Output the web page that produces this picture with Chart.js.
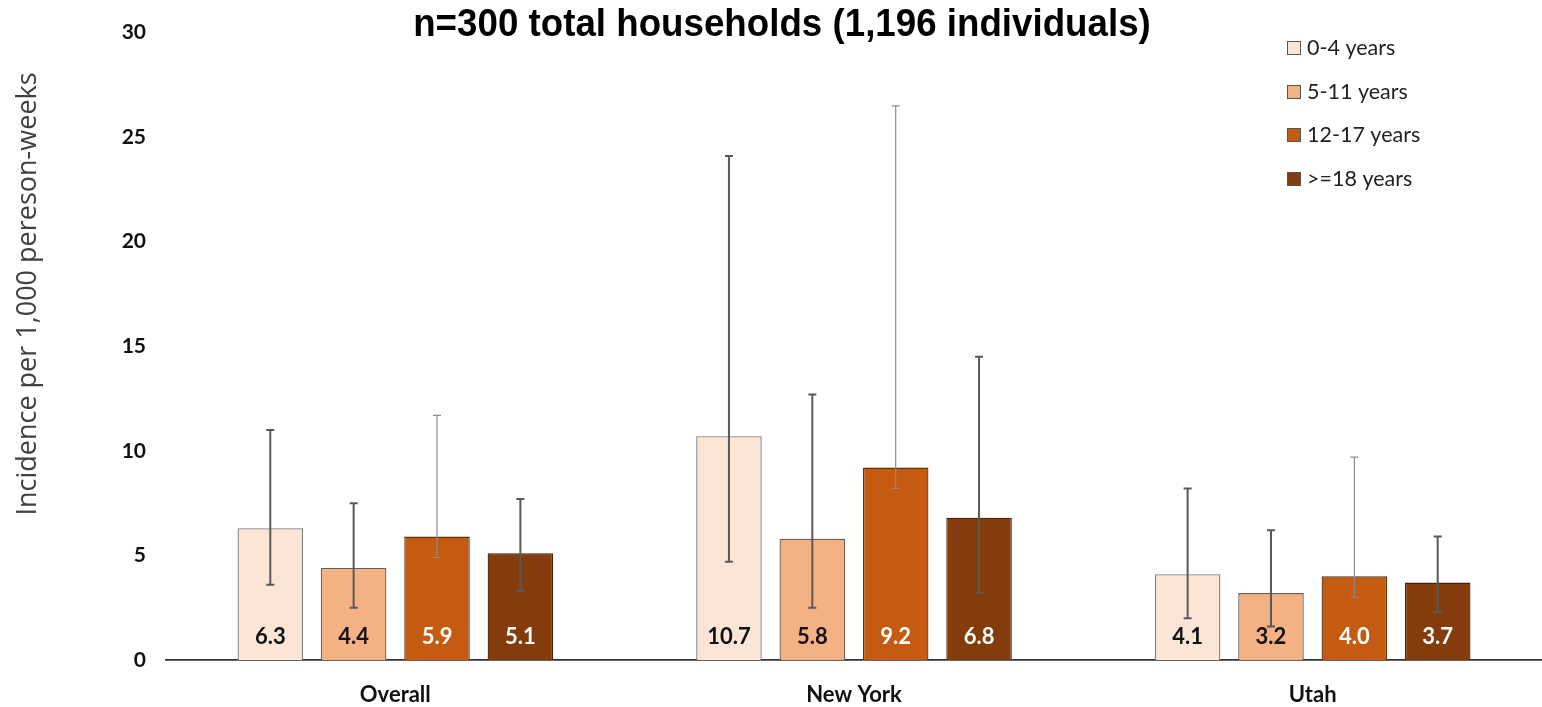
<!DOCTYPE html>
<html>
<head>
<meta charset="utf-8">
<script src="https://cdn.jsdelivr.net/npm/chart.js@4/dist/chart.umd.min.js"></script>
<style>
  html, body { margin: 0; padding: 0; background: #ffffff; overflow: hidden; }
  #wrap { width: 1542px; height: 707px; position: relative; }
</style>
</head>
<body>
<div id="wrap"><canvas id="chart" width="1542" height="707"></canvas></div>
<script>
// Sites
const categories = ['Overall', 'New York', 'Utah'];
// Age groups
const seriesLabels = ['0-4 years', '5-11 years', '12-17 years', '>=18 years'];

// Incidence per 1,000 person-weeks
const age0to4   = [6.3, 10.7, 4.1];
const age5to11  = [4.4, 5.8, 3.2];
const age12to17 = [5.9, 9.2, 4.0];
const age18plus = [5.1, 6.8, 3.7];

// 95% CI lower / upper bounds
const low0to4    = [3.6, 4.7, 2.0];
const high0to4   = [11.0, 24.1, 8.2];
const low5to11   = [2.5, 2.5, 1.6];
const high5to11  = [7.5, 12.7, 6.2];
const low12to17  = [4.9, 8.2, 3.0];
const high12to17 = [11.7, 26.5, 9.7];
const low18plus  = [3.3, 3.2, 2.3];
const high18plus = [7.7, 14.5, 5.9];

const yTicks = [0, 5, 10, 15, 20, 25, 30];

const fills   = ['#FBE5D6', '#F4B183', '#C55A11', '#843C0C'];
const borders = ['#7a7a7a', '#6e5a4e', '#5e3410', '#4a2106'];
const labelColors = ['#111111', '#111111', '#ffffff', '#ffffff'];
const errColors = ['#595959', '#595959', '#8c8c8c', '#595959'];
const errWidths = [2, 2, 1.2, 2];

const values = [age0to4, age5to11, age12to17, age18plus];
const lows = [low0to4, low5to11, low12to17, low18plus];
const highs = [high0to4, high5to11, high12to17, high18plus];

const datasets = seriesLabels.map((label, i) => ({
  label: label,
  data: values[i],
  backgroundColor: fills[i],
  borderColor: borders[i],
  borderWidth: 1.3,
  borderSkipped: 'bottom',
  categoryPercentage: 0.727,
  barPercentage: 0.786,
  errLow: lows[i],
  errHigh: highs[i]
}));

// Confidence-interval whiskers and in-bar value labels
const barExtras = {
  id: 'barExtras',
  afterDatasetsDraw(chart) {
    const ctx = chart.ctx;
    const y = chart.scales.y;
    chart.data.datasets.forEach((ds, di) => {
      const meta = chart.getDatasetMeta(di);
      meta.data.forEach((bar, j) => {
        const x = bar.x;
        ctx.save();
        ctx.font = 'bold 22px Lato, "Open Sans", sans-serif';
        ctx.fillStyle = labelColors[di];
        ctx.textAlign = 'center';
        ctx.textBaseline = 'middle';
        ctx.fillText(ds.data[j].toFixed(1), x, y.getPixelForValue(0) - 23);
        ctx.restore();

        const top = y.getPixelForValue(ds.errHigh[j]);
        const bot = y.getPixelForValue(ds.errLow[j]);
        ctx.save();
        ctx.strokeStyle = errColors[di];
        ctx.lineWidth = errWidths[di];
        ctx.beginPath();
        ctx.moveTo(x, top); ctx.lineTo(x, bot);
        ctx.moveTo(x - 4, top); ctx.lineTo(x + 4, top);
        ctx.moveTo(x - 4, bot); ctx.lineTo(x + 4, bot);
        ctx.stroke();
        ctx.restore();
      });
    });
  }
};

// Title, rotated y-axis title and the stacked legend at top right
const decorations = {
  id: 'decorations',
  afterDraw(chart) {
    const ctx = chart.ctx;
    ctx.save();
    ctx.translate(782, 36);
    ctx.scale(1.02, 1.08);
    ctx.font = 'bold 36px "Liberation Sans", Arial, sans-serif';
    ctx.fillStyle = '#000000';
    ctx.textAlign = 'center';
    ctx.textBaseline = 'alphabetic';
    ctx.fillText('n=300 total households (1,196 individuals)', 0, 0);
    ctx.restore();

    ctx.save();
    ctx.translate(36, 294);
    ctx.rotate(-Math.PI / 2);
    ctx.font = '27px "Open Sans", sans-serif';
    ctx.fillStyle = '#404040';
    ctx.textAlign = 'center';
    ctx.textBaseline = 'alphabetic';
    ctx.fillText('Incidence per 1,000 pereson-weeks', 0, 0);
    ctx.restore();

    const rowY = [48, 92, 135, 179];
    chart.data.datasets.forEach((ds, i) => {
      ctx.save();
      ctx.fillStyle = ds.backgroundColor;
      ctx.strokeStyle = '#555555';
      ctx.lineWidth = 1;
      ctx.fillRect(1287.5, rowY[i] - 6.5, 13, 13);
      ctx.strokeRect(1287.5, rowY[i] - 6.5, 13, 13);
      ctx.font = '21.5px Lato, "Open Sans", sans-serif';
      ctx.fillStyle = '#222222';
      ctx.textAlign = 'left';
      ctx.textBaseline = 'middle';
      ctx.fillText(ds.label, 1307, rowY[i]);
      ctx.restore();
    });
  }
};

new Chart(document.getElementById('chart'), {
  type: 'bar',
  data: { labels: categories, datasets: datasets },
  options: {
    responsive: false,
    animation: false,
    layout: { padding: { top: 19, right: 0, bottom: 0, left: 0 } },
    plugins: { legend: { display: false }, tooltip: { enabled: false }, title: { display: false } },
    scales: {
      x: {
        grid: { display: false, drawTicks: false },
        border: { display: true, color: '#333333', width: 1.8 },
        ticks: {
          color: '#111111',
          padding: 22,
          font: { family: 'Lato, "Open Sans", sans-serif', weight: 'bold', size: 22 }
        },
        afterFit(scale) { scale.height = 47; }
      },
      y: {
        min: 0,
        max: 30,
        grid: { display: false, drawTicks: false },
        border: { display: false },
        afterBuildTicks(scale) { scale.ticks = yTicks.map(v => ({ value: v })); },
        ticks: {
          color: '#111111',
          padding: 20,
          font: { family: 'Lato, "Open Sans", sans-serif', weight: 'bold', size: 21 }
        },
        afterFit(scale) { scale.width = 166; }
      }
    }
  },
  plugins: [barExtras, decorations]
});
</script>
</body>
</html>
